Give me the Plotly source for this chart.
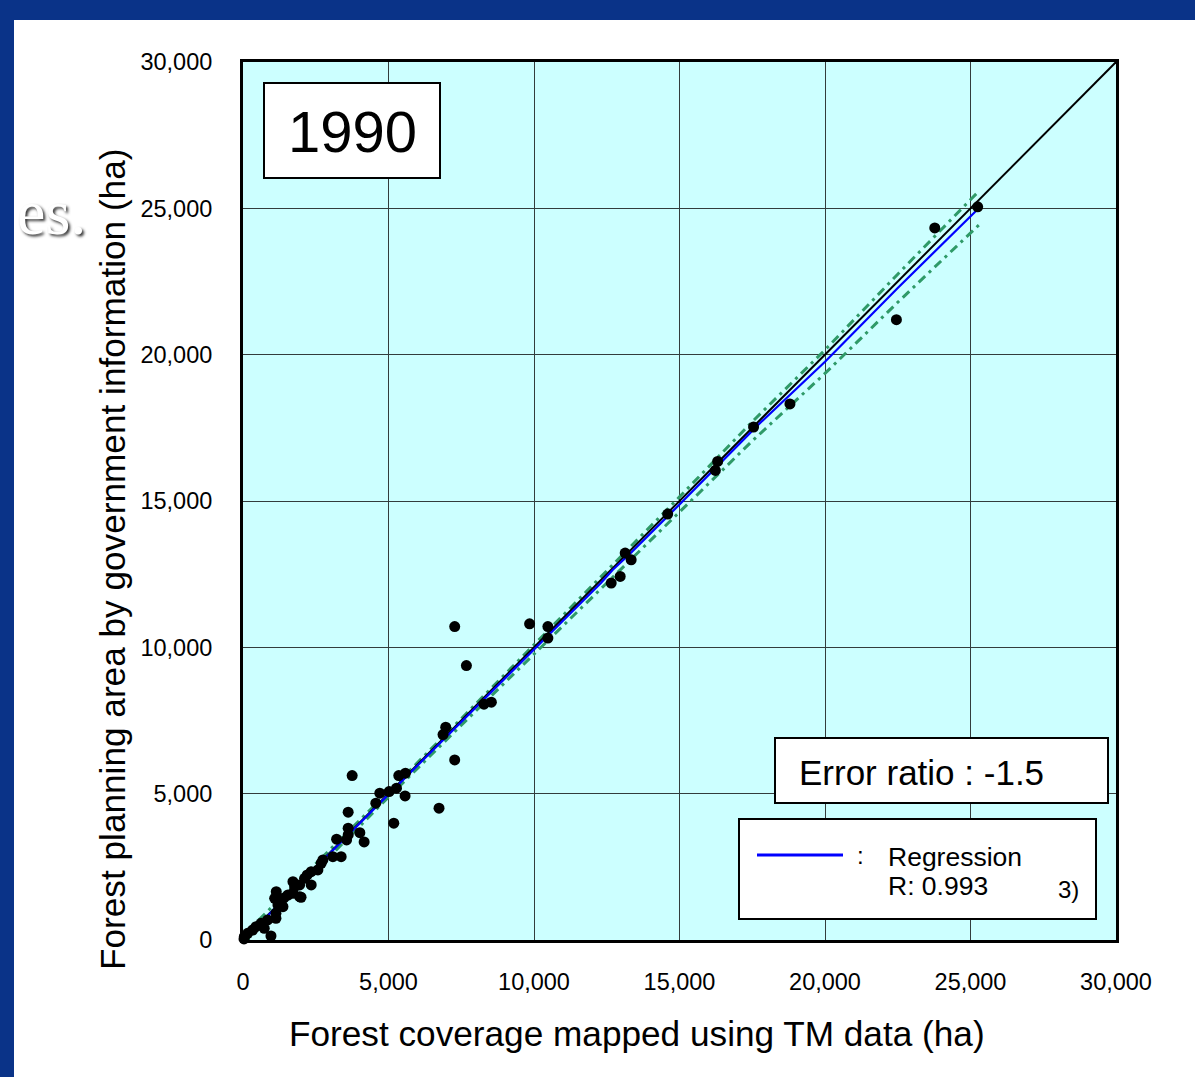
import plotly.graph_objects as go

# ---------------- data ----------------
tm_area = [25247, 23772, 22454, 18796, 17546, 16311, 16232, 14595, 13133, 13339,
           12962, 12653, 10477, 10477, 9849, 7275, 7677, 8535, 8281, 6966,
           6874, 7275, 6736, 3751, 3614, 4701, 5021, 5275, 5353, 5583,
           5570, 5182, 4564, 3614, 3614, 3559, 4015, 4163, 3216, 3373,
           3089, 2745, 2687, 2574, 2344, 2207, 2344, 2117, 1946, 1946,
           1716, 1716, 1774, 1143, 1088, 1259, 1201, 1373, 1132, 1132,
           848, 618, 731, 446, 333, 161, 45, 35, 961, 1544,
           1407, 1846, 1995]
gov_area = [25050, 24332, 21197, 18315, 17528, 16352, 16044, 14554, 13221, 12991,
            12421, 12195, 10315, 10711, 10803, 10711, 9378, 8126, 8058, 7272,
            7019, 6154, 4503, 5617, 4366, 5015, 5070, 5186, 5617, 5699,
            4923, 3990, 4674, 3819, 3590, 3419, 3668, 3350, 3443, 2848,
            2848, 2735, 2622, 2393, 2335, 2222, 1880, 2109, 1880, 1480,
            1993, 1597, 1822, 1651, 1426, 1368, 1197, 1138, 913, 742,
            684, 571, 400, 455, 342, 229, 113, 35, 137, 1538,
            1436, 1881, 1461]

diag = [0, 30000]

reg_x = [40, 5000, 10000, 12300, 12700, 13300, 15000, 17300, 17700, 20000, 22500, 25240]
reg_y = [20, 4975, 9925, 12200, 12640, 13200, 14880, 17180, 17600, 19760, 22280, 24960]

band_x = [0, 2500, 5000, 7500, 10000, 12500, 15000, 17500, 20000, 22500, 25300]
band_upper = [150, 2600, 5065, 7560, 10075, 12590, 15140, 17710, 20160, 22750, 25600]
band_lower = [-150, 2380, 4885, 7340, 9775, 12190, 14620, 17050, 19360, 21790, 24440]

tick_vals = [0, 5000, 10000, 15000, 20000, 25000, 30000]

# ---------------- layout geometry ----------------
W, H = 1195, 1077
L, R, T, B = 243, 1116, 62, 940          # plot area in pixels


def px(x):
    return (x - L) / (R - L)


def py(y):
    return (B - y) / (B - T)


FONT = "Liberation Sans, Arial, sans-serif"
GREEN = "#2f9a68"
DASH = "9px,5px,3px,5px"

fig = go.Figure()

fig.add_trace(go.Scatter(x=band_x, y=band_upper, mode="lines",
                         line=dict(color=GREEN, width=3, dash=DASH),
                         showlegend=False, hoverinfo="skip"))
fig.add_trace(go.Scatter(x=band_x, y=band_lower, mode="lines",
                         line=dict(color=GREEN, width=3, dash=DASH),
                         showlegend=False, hoverinfo="skip"))
fig.add_trace(go.Scatter(x=diag, y=diag, mode="lines",
                         line=dict(color="black", width=2),
                         showlegend=False, hoverinfo="skip"))
fig.add_trace(go.Scatter(x=reg_x, y=reg_y, mode="lines",
                         line=dict(color="#0000ff", width=2.2),
                         showlegend=False, hoverinfo="skip"))
fig.add_trace(go.Scatter(x=tm_area, y=gov_area, mode="markers",
                         marker=dict(color="black", size=11),
                         cliponaxis=False, showlegend=False))

shapes = [
    # white slide panel
    dict(type="rect", xref="paper", yref="paper",
         x0=px(14), x1=px(1205), y0=py(1090), y1=py(20),
         fillcolor="white", line=dict(width=0), layer="below"),
    # cyan plot area
    dict(type="rect", xref="x", yref="y", x0=0, x1=30000, y0=0, y1=30000,
         fillcolor="#ccffff", line=dict(width=0), layer="below"),
    # 1990 box
    dict(type="rect", xref="paper", yref="paper",
         x0=px(264), x1=px(440), y0=py(178), y1=py(83),
         fillcolor="white", line=dict(color="black", width=2), layer="above"),
    # error ratio box
    dict(type="rect", xref="paper", yref="paper",
         x0=px(775), x1=px(1108), y0=py(803), y1=py(738),
         fillcolor="white", line=dict(color="black", width=2), layer="above"),
    # legend box
    dict(type="rect", xref="paper", yref="paper",
         x0=px(739), x1=px(1096), y0=py(919), y1=py(819),
         fillcolor="white", line=dict(color="black", width=2), layer="above"),
    # legend line sample
    dict(type="line", xref="paper", yref="paper",
         x0=px(757), x1=px(843), y0=py(855), y1=py(855),
         line=dict(color="#0000ff", width=3), layer="above"),
]

ann = []


def add_text(text, x, y, size, xanchor="center", yanchor="middle", angle=0,
             family=FONT, color="black", shadow=None):
    f = dict(family=family, size=size, color=color)
    if shadow:
        f["shadow"] = shadow
    ann.append(dict(text=text, x=px(x), y=py(y), xref="paper", yref="paper",
                    xanchor=xanchor, yanchor=yanchor, showarrow=False,
                    textangle=angle, font=f))


add_text("1990", 352, 131, 58)
add_text("Error ratio : -1.5", 797, 772, 35, xanchor="left")
add_text(":", 860, 855, 24)
add_text("Regression", 886, 857, 26.5, xanchor="left")
add_text("R: 0.993", 886, 886, 26.5, xanchor="left")
add_text("3)", 1056, 889, 24, xanchor="left")
add_text("Forest coverage mapped using TM data (ha)", 637, 1033, 35.2)
add_text("Forest planning area by government information (ha)", 112, 560, 35.2, angle=-90)
# fragment of slide text partly hidden behind the chart picture
add_text("es.", 88, 212, 64, xanchor="right", family="Liberation Serif, serif",
         color="white", shadow="2px 2px 3px #333")

axis_common = dict(range=[0, 30000], tickvals=tick_vals, tickformat=",",
                   showgrid=True, gridcolor="#333c3c", gridwidth=1,
                   showline=True, linewidth=3, linecolor="black", mirror=True,
                   zeroline=False, ticks="",
                   tickfont=dict(family=FONT, size=23.5, color="black"))

fig.update_layout(
    width=W, height=H,
    margin=dict(l=L, r=W - R, t=T, b=H - B, autoexpand=False),
    paper_bgcolor="#0a3388",
    plot_bgcolor="#ccffff",
    xaxis=dict(**axis_common, ticklabelstandoff=19),
    yaxis=dict(**axis_common, ticklabelstandoff=23),
    shapes=shapes,
    annotations=ann,
    showlegend=False,
    font=dict(family=FONT, color="black"),
)

fig.write_html("out.html",
               config={"displayModeBar": False},
               post_script="document.body.style.margin='0';"
                           "document.body.style.overflow='hidden';")
